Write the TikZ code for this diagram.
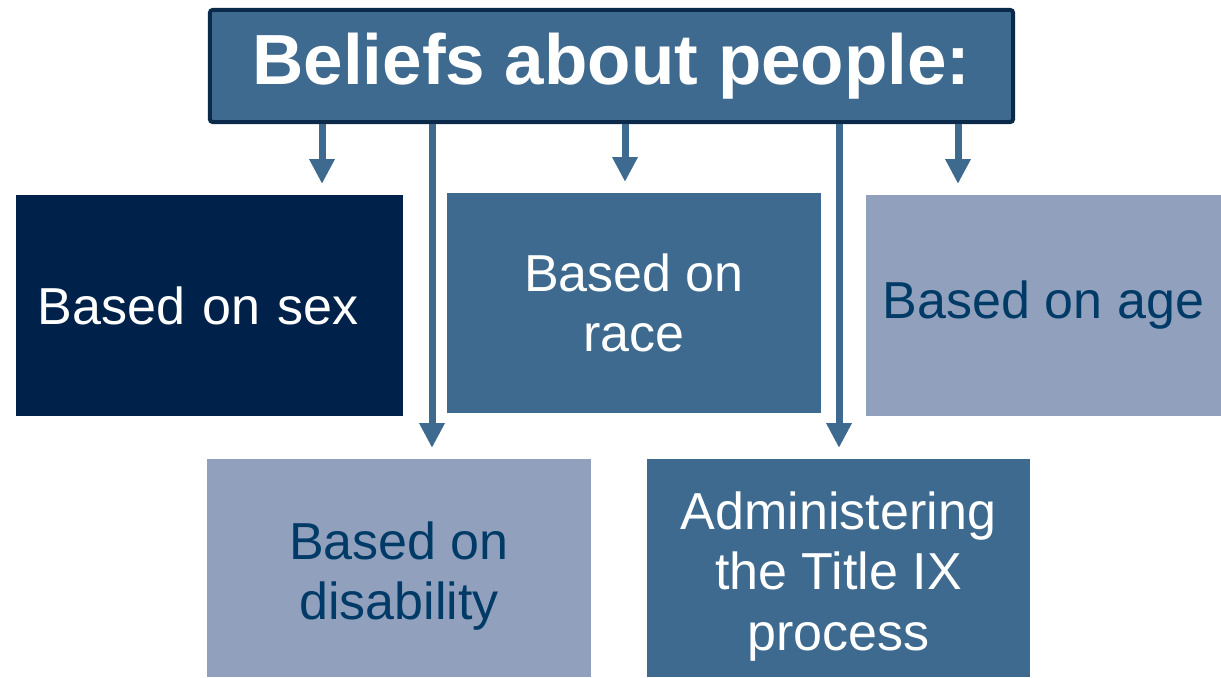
\documentclass[tikz,border=0pt]{standalone}
\usepackage{fontspec}
\setmainfont{Liberation Sans}
\usetikzlibrary{arrows.meta}
\tikzset{>={Triangle[width=0.6cm,length=0.62cm]}}
\definecolor{navy}{HTML}{00224A}
\definecolor{steel}{HTML}{3D6A8E}
\definecolor{haze}{HTML}{91A1BD}
\definecolor{inkblue}{HTML}{003A66}
\definecolor{rim}{HTML}{0B2A4A}

\begin{document}
\begin{tikzpicture}[x=0.025cm,y=-0.025cm,%
                    heading/.style={draw=rim,line width=0.1cm,rounded corners=2pt,fill=steel,text=white,
                                    minimum width=20.075cm,minimum height=2.8cm,inner sep=0,
                                    font=\fontsize{50.5}{56}\selectfont\bfseries},
                    group/.style={inner sep=0,align=center,font=\fontsize{37}{43}\selectfont},
                    dark/.style={group,fill=navy,text=white},
                    mid/.style={group,fill=steel,text=white},
                    pale/.style={group,fill=haze,text=inkblue},
                    arr/.style={->,draw=steel,line width=0.175cm,shorten >=0.27cm},
        ]
        \useasboundingbox (0,0) rectangle (1221,677);
        \node[heading] (title) at (611.5,66) {Beliefs about people:};
%
        \node[dark,minimum width=9.675cm,minimum height=5.525cm,text width=8.575cm,inner xsep=0.55cm,align=left] (sex) at (209.5,305.5) {Based on sex};
        \node[mid,minimum width=9.35cm,minimum height=5.5cm] (race) at (634,303) {Based on\\race};
        \node[pale,minimum width=8.875cm,minimum height=5.525cm] (age) at (1043.5,305.5) {Based on age};
        \node[pale,minimum width=9.6cm,minimum height=5.45cm] (dis) at (399,568) {\rule{0pt}{1.35cm}Based on\\disability};
        \node[mid,minimum width=9.575cm,minimum height=5.45cm] (tix) at (838.5,568) {\rule{0pt}{1.35cm}Administering\\the Title IX\\process};
%
        \coordinate (c1) at (322,0);
        \coordinate (c2) at (432,0);
        \coordinate (c3) at (625,0);
        \coordinate (c4) at (839,0);
        \coordinate (c5) at (958,0);
        \draw[arr] (title.south -| c1) -- (sex.north -| c1);
        \draw[arr] (title.south -| c2) -- (dis.north -| c2);
        \draw[arr] (title.south -| c3) -- (race.north -| c3);
        \draw[arr] (title.south -| c4) -- (tix.north -| c4);
        \draw[arr] (title.south -| c5) -- (age.north -| c5);
\end{tikzpicture}
\end{document}
